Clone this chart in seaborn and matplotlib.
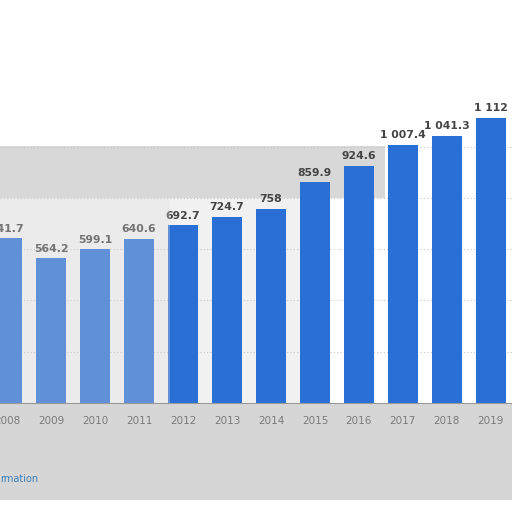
import matplotlib
matplotlib.use('Agg')
import matplotlib.pyplot as plt
from matplotlib.patches import Rectangle
import seaborn as sns
import pandas as pd

years = ['2008', '2009', '2010', '2011', '2012', '2013',
         '2014', '2015', '2016', '2017', '2018', '2019']
values = [641.7, 564.2, 599.1, 640.6, 692.7, 724.7,
          758, 859.9, 924.6, 1007.4, 1041.3, 1112.0]

df = pd.DataFrame({'year': years, 'value': values})

sns.set_style('white')
plt.rcParams['font.family'] = ['DejaVu Sans']

fig = plt.figure(figsize=(5.12, 5.12), dpi=100)
ax = fig.add_axes([0, 0.213, 1, 0.601])
ax.patch.set_alpha(0)

sns.barplot(data=df, x='year', y='value', color='#2a6fd5', width=0.68,
            saturation=1, linewidth=0, ax=ax, zorder=2)

ax.set_xlim(-0.16, 11.48)
ax.set_ylim(0, 1200)
ax.set_yticks([200, 400, 600, 800, 1000])
ax.yaxis.grid(True, linestyle=(0, (1, 2)), color='#c4c4c4', linewidth=0.8, zorder=0)
ax.set_axisbelow(True)
ax.tick_params(axis='y', left=False, labelleft=False)
ax.tick_params(axis='x', bottom=False, labelsize=7.5, labelcolor='#7a7a7a', pad=6)
ax.set_xlabel('')
ax.set_ylabel('')
for s in ['top', 'left', 'right']:
    ax.spines[s].set_visible(False)
ax.spines['bottom'].set_color('#9a9a9a')

for i, v in enumerate(values):
    txt = f'{v:,.1f}'.replace(',', ' ')
    if txt.endswith('.0'):
        txt = txt[:-2]
    ax.text(i, v + 18, txt, ha='center', va='bottom', fontsize=7.8,
            fontweight='bold', color='#444444')

# greyish background smudges seen in the reference
fig.patches.append(Rectangle((0, 1 - 198 / 512), 385 / 512, 52 / 512,
                             transform=fig.transFigure, color='#d8d8d8',
                             zorder=-1, linewidth=0))
fig.patches.append(Rectangle((0, 1 - 403 / 512), 300 / 512, 205 / 512,
                             transform=fig.transFigure, color='#f1f1f1',
                             zorder=-2, linewidth=0))
fig.patches.append(Rectangle((0, 1 - 403 / 512), 170 / 512, 205 / 512,
                             transform=fig.transFigure, color='#e0e0e0',
                             alpha=0.3, zorder=5, linewidth=0))
fig.patches.append(Rectangle((0, 1 - 500 / 512), 1, 97 / 512,
                             transform=fig.transFigure, color='#d6d6d6',
                             zorder=-1, linewidth=0))

fig.text(0, 1 - 479 / 512, 'rmation', fontsize=7, color='#3d7fb8',
         va='center', ha='left')

fig.savefig('out.png', dpi=100)
